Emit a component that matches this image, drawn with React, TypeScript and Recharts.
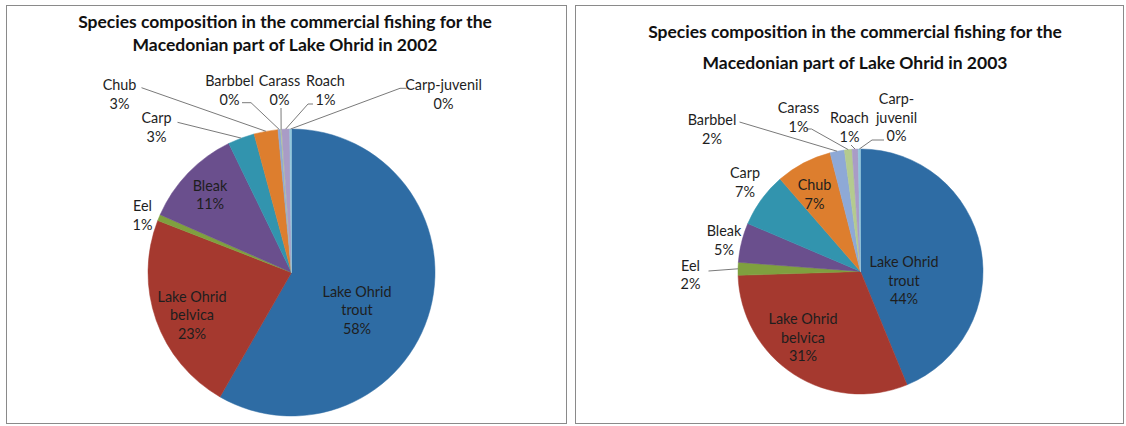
import { Cell, Pie, PieChart } from "recharts";

const W = 1126;
const H = 426;
const RAD = Math.PI / 180;

const species = [
  "Lake Ohrid trout",
  "Lake Ohrid belvica",
  "Eel",
  "Bleak",
  "Carp",
  "Chub",
  "Barbbel",
  "Carass",
  "Roach",
  "Carp-juvenil",
];
// share of the catch, %
const share2002 = [58.3, 22.6, 0.7, 11.2, 3.0, 2.7, 0.3, 0.1, 0.9, 0.2];
const share2003 = [43.8, 30.7, 1.7, 5.2, 7.2, 7.4, 1.9, 1.0, 0.8, 0.3];
const colors = [
  "#2E6CA4",
  "#A5392F",
  "#7FA03F",
  "#6A4F8D",
  "#3294AE",
  "#DD7E2E",
  "#8EA9D6",
  "#B4CB8F",
  "#A99CC6",
  "#92C8DC",
];

const data2002 = species.map((name, i) => ({ name, value: share2002[i] }));
const data2003 = species.map((name, i) => ({ name, value: share2003[i] }));

// label placement, relative to the pie centre: first line centre, optional
// leader start and knee
type Place = {
  x: number;
  y: number;
  lines?: string[];
  from?: [number, number];
  knee?: [number, number];
};

const place2002: Record<string, Place> = {
  "Lake Ohrid trout": { x: 65.5, y: 19.2, lines: ["Lake Ohrid", "trout"] },
  "Lake Ohrid belvica": { x: -99.5, y: 24.2, lines: ["Lake Ohrid", "belvica"] },
  Bleak: { x: -81.5, y: -86.8 },
  Eel: { x: -149, y: -66.5 },
  Carp: { x: -135, y: -154.5, from: [-114, -150.2] },
  Chub: { x: -172, y: -187.5, from: [-150, -184.8] },
  Barbbel: { x: -62, y: -191.5, from: [-49.5, -169.8], knee: [-40.5, -169.8] },
  Carass: { x: -12, y: -191.5, from: [-10.5, -164.5] },
  Roach: { x: 34, y: -191.5, from: [21.5, -168.5], knee: [16.5, -168.5] },
  "Carp-juvenil": { x: 152, y: -187.5, from: [115, -184.2], knee: [108.5, -184.2] },
};

const place2003: Record<string, Place> = {
  "Lake Ohrid trout": { x: 43.5, y: -9.5, lines: ["Lake Ohrid", "trout"] },
  "Lake Ohrid belvica": { x: -57.5, y: 47.5, lines: ["Lake Ohrid", "belvica"] },
  Eel: { x: -170, y: -5.8, from: [-152, -0.5] },
  Bleak: { x: -136.5, y: -40.5 },
  Carp: { x: -115.5, y: -98.5 },
  Chub: { x: -46, y: -86.5 },
  Barbbel: { x: -148.5, y: -151.5, from: [-121, -149.5] },
  Carass: { x: -62, y: -163.5, from: [-54, -142.5], knee: [-49, -142.5] },
  Roach: { x: -11, y: -153.5, from: [-9.5, -126.5] },
  "Carp-juvenil": {
    x: 36,
    y: -172.5,
    lines: ["Carp-", "juvenil"],
    from: [23.5, -131.5],
    knee: [11.5, -131.5],
  },
};

const font = "Lato, 'Open Sans', sans-serif";

function makeLabel(places: Record<string, Place>, lh: number) {
  return (p: any) => {
    const name = p.name ?? p.payload?.name;
    const pl = places[name];
    if (!pl) return null;
    const lines = [...(pl.lines ?? [name]), `${Math.round(p.percent * 100)}%`];
    const ex = p.cx + p.outerRadius * Math.cos(-p.midAngle * RAD);
    const ey = p.cy + p.outerRadius * Math.sin(-p.midAngle * RAD);
    const pts: string[] = [];
    if (pl.from) {
      pts.push(`${p.cx + pl.from[0]},${p.cy + pl.from[1]}`);
      if (pl.knee) pts.push(`${p.cx + pl.knee[0]},${p.cy + pl.knee[1]}`);
      pts.push(`${ex},${ey}`);
    }
    return (
      <g>
        {pl.from && (
          <polyline points={pts.join(" ")} fill="none" stroke="#7a7a7a" strokeWidth={1} />
        )}
        {lines.map((l, i) => (
          <text
            key={i}
            x={p.cx + pl.x}
            y={p.cy + pl.y + i * lh}
            dy="0.35em"
            textAnchor="middle"
            fontFamily={font}
            fontSize={14.4}
            fill="#1e1e1e"
          >
            {l}
          </text>
        ))}
      </g>
    );
  };
}

function Title({ cx, ys, lines }: { cx: number; ys: number[]; lines: string[] }) {
  return (
    <>
      {lines.map((l, i) => (
        <div
          key={i}
          style={{
            position: "absolute",
            left: cx - 280,
            width: 560,
            top: ys[i] - 12,
            height: 24,
            lineHeight: "24px",
            textAlign: "center",
            fontFamily: font,
            fontWeight: 700,
            fontSize: 17.5,
            color: "#111",
            whiteSpace: "nowrap",
          }}
        >
          {l}
        </div>
      ))}
    </>
  );
}

const boxStyle = (left: number, width: number): React.CSSProperties => ({
  position: "absolute",
  left,
  top: 5,
  width,
  height: 419,
  border: "1px solid #8a8a8a",
  boxSizing: "border-box",
});

export default function App() {
  return (
    <div style={{ position: "absolute", left: 0, top: 0, width: W, height: H, background: "#fff", overflow: "hidden" }}>
      <div style={boxStyle(6, 561)} />
      <div style={boxStyle(575, 549)} />
      <div style={{ position: "absolute", left: 0, top: 0 }}>
        <PieChart width={W} height={H}>
          <Pie
            data={data2002}
            dataKey="value"
            nameKey="name"
            cx={286.5}
            cy={267.5}
            outerRadius={143.5}
            startAngle={90}
            endAngle={-270}
            labelLine={false}
            label={makeLabel(place2002, 18.7)}
            isAnimationActive={false}
          >
            {data2002.map((d, i) => (
              <Cell key={d.name} fill={colors[i]} stroke={colors[i]} strokeWidth={0.5} />
            ))}
          </Pie>
          <Pie
            data={data2003}
            dataKey="value"
            nameKey="name"
            cx={855.5}
            cy={266.5}
            outerRadius={122.5}
            startAngle={90}
            endAngle={-270}
            labelLine={false}
            label={makeLabel(place2003, 18.6)}
            isAnimationActive={false}
          >
            {data2003.map((d, i) => (
              <Cell key={d.name} fill={colors[i]} stroke={colors[i]} strokeWidth={0.5} />
            ))}
          </Pie>
        </PieChart>
      </div>
      <Title
        cx={285}
        ys={[21.7, 45]}
        lines={["Species composition in the commercial fishing for the", "Macedonian part of Lake Ohrid in 2002"]}
      />
      <Title
        cx={855}
        ys={[31.7, 63.3]}
        lines={["Species composition in the commercial fishing for the", "Macedonian part of Lake Ohrid in 2003"]}
      />
    </div>
  );
}
